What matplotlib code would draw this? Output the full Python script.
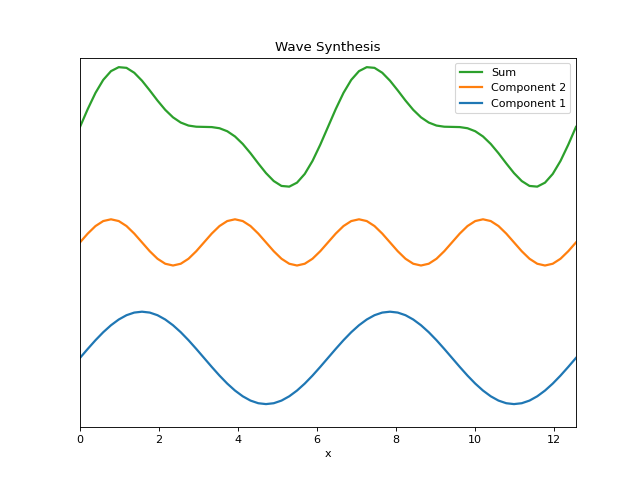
import numpy as np
import matplotlib
matplotlib.use("Agg")
import matplotlib.pyplot as plt

# Sample positions: 65 readings from 0 to 4*pi
x_start, x_end, n_samples = 0.0, 12.566, 65

# One period (32 readings) of each wave; repeated twice plus closing point
comp1_period = [0.000, 0.195, 0.383, 0.556, 0.707, 0.831, 0.924, 0.981,
                1.000, 0.981, 0.924, 0.831, 0.707, 0.556, 0.383, 0.195,
                0.000, -0.195, -0.383, -0.556, -0.707, -0.831, -0.924, -0.981,
                -1.000, -0.981, -0.924, -0.831, -0.707, -0.556, -0.383, -0.195]
comp2_period = [0.000, 0.191, 0.354, 0.462, 0.500, 0.462, 0.354, 0.191,
                0.000, -0.191, -0.354, -0.462, -0.500, -0.462, -0.354, -0.191,
                0.000, 0.191, 0.354, 0.462, 0.500, 0.462, 0.354, 0.191,
                0.000, -0.191, -0.354, -0.462, -0.500, -0.462, -0.354, -0.191]
sum_period = [0.000, 0.386, 0.737, 1.018, 1.207, 1.293, 1.278, 1.172,
              1.000, 0.790, 0.570, 0.369, 0.207, 0.094, 0.029, 0.004,
              0.000, -0.004, -0.029, -0.094, -0.207, -0.369, -0.570, -0.790,
              -1.000, -1.172, -1.278, -1.293, -1.207, -1.018, -0.737, -0.386]

labels = ["Component 1", "Component 2", "Sum"]
offsets = [0.0, 2.5, 5.0]

x = np.linspace(x_start, x_end, n_samples)
series = [comp1_period * 2 + [comp1_period[0]],
          comp2_period * 2 + [comp2_period[0]],
          sum_period * 2 + [sum_period[0]]]

fig, ax = plt.subplots(figsize=(8, 6), dpi=80)
handles = []
for vals, off, lab in zip(series, offsets, labels):
    h, = ax.plot(x, np.array(vals) + off, lw=2, label=lab)
    handles.append(h)

ax.set_xlim(x_start, x_end)
ax.set_ylim(-1.5, 6.5)
ax.set_yticks([])
ax.set_xlabel("x")
ax.set_title("Wave Synthesis")
ax.legend(handles[::-1], [h.get_label() for h in handles[::-1]], loc="upper right")
fig.savefig("out.png", dpi=80)
